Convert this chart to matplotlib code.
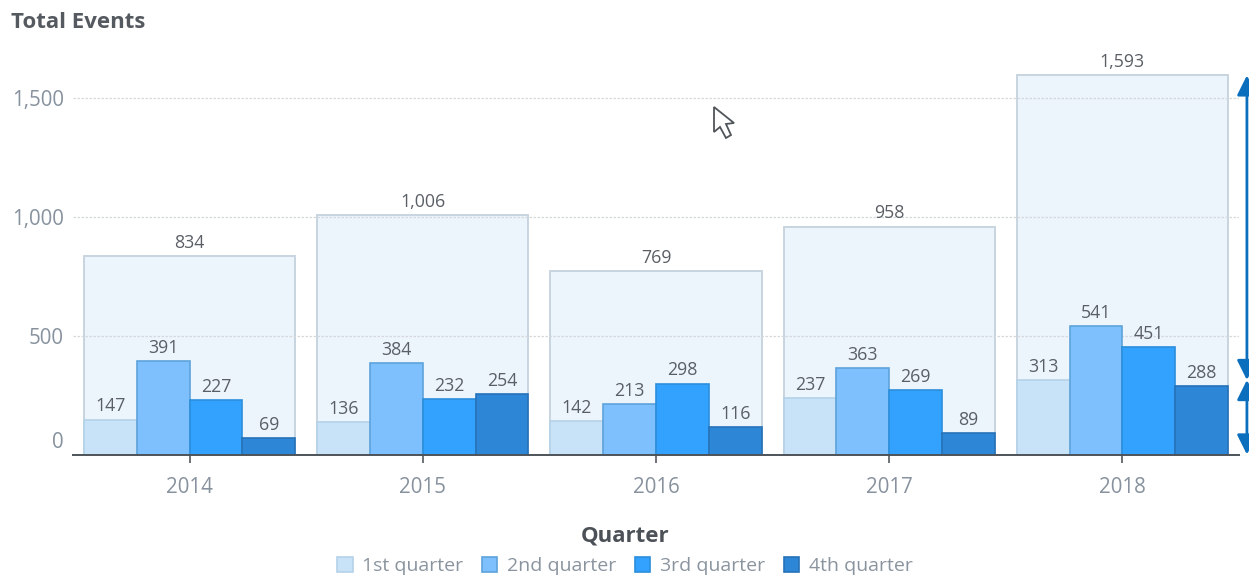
import matplotlib
matplotlib.use("Agg")
import matplotlib.pyplot as plt
from matplotlib.patches import FancyArrowPatch, Polygon
from matplotlib.transforms import ScaledTranslation, Affine2D

years = ["2014", "2015", "2016", "2017", "2018"]
totals = [834, 1006, 769, 958, 1593]
q1 = [147, 136, 142, 237, 313]
q2 = [391, 384, 213, 363, 541]
q3 = [227, 232, 298, 269, 451]
q4 = [69, 254, 116, 89, 288]
quarter_names = ["1st quarter", "2nd quarter", "3rd quarter", "4th quarter"]
y_ticks = [0, 500, 1000, 1500]

W, H = 1249, 576
plt.rcParams["font.family"] = ["Open Sans", "DejaVu Sans"]
fig = plt.figure(figsize=(W / 100, H / 100), dpi=100, facecolor="white")
ax = fig.add_axes([73 / W, 1 - 454.5 / H, (1239 - 73) / W, (454.5 - 54.7) / H])
ax.set_xlim(-0.5, 4.5)
ax.set_ylim(0, 1680)

x = list(range(len(years)))
group_w = 0.905
bw = group_w / 4
box = ax.bar(x, totals, width=group_w, color="#ecf4fc", edgecolor="#c8d4df", linewidth=1.4, zorder=1)
ax.bar_label(box, labels=[f"{v:,}" for v in totals], padding=3, fontsize=12.8, color="#5a5f66", zorder=6)

series = [q1, q2, q3, q4]
fills = ["#c8e2f8", "#7dc0fd", "#33a1fe", "#2d87d6"]
edges = ["#b5d2e8", "#5ea3dc", "#2b8edb", "#2672b8"]
handles = []
for i, vals in enumerate(series):
    pos = [c - group_w / 2 + bw * (i + 0.5) for c in x]
    b = ax.bar(pos, vals, width=bw, color=fills[i], edgecolor=edges[i], linewidth=1.2, zorder=3, label=quarter_names[i])
    ax.bar_label(b, padding=3, fontsize=12.8, color="#5a5f66", zorder=6)
    handles.append(b)

ax.set_xticks(x, years)
ax.set_yticks(y_ticks, [f"{v:,}" for v in y_ticks])
ax.yaxis.grid(True, color="#d6d9dc", linestyle=(0, (2, 1.2)), linewidth=0.9, zorder=2)
ax.set_axisbelow(False)
ax.xaxis.grid(False)
for gl in ax.get_ygridlines():
    gl.set_zorder(2)
for s in ["top", "left", "right"]:
    ax.spines[s].set_visible(False)
ax.spines["bottom"].set_color("#4d5359")
ax.spines["bottom"].set_linewidth(1.4)
ax.spines["bottom"].set_zorder(7)
ax.tick_params(axis="x", length=6, width=1.2, color="#55595e", pad=10, labelsize=14.8, labelcolor="#87929e")
ax.tick_params(axis="y", length=0, pad=6.5, labelsize=14.8, labelcolor="#87929e")
zero = ax.yaxis.get_major_ticks()[0].label1
zero.set_transform(zero.get_transform() + ScaledTranslation(0, 15 / 100, fig.dpi_scale_trans))

ax.set_xlabel("Quarter", fontsize=16, fontweight="bold", color="#4c5157", va="center")
ax.xaxis.set_label_coords((625 - 73) / (1239 - 73), -(536 - 454.5) / (454.5 - 54.7))
fig.text(11 / W, 1 - 22 / H, "Total Events", fontsize=16, fontweight="bold", color="#555a60", ha="left", va="center")

fig.legend(handles=handles, labels=quarter_names, loc="center", bbox_to_anchor=(625 / W, 1 - 566 / H), ncol=4,
           frameon=False, fontsize=14, labelcolor="#8a949f", handlelength=0.8, handleheight=0.85,
           handletextpad=0.5, columnspacing=0.95, borderpad=0)

# Annotation arrows drawn over the chart, from total to Q1 of the last year
arrow_x = 4.534
arrow_c = "#0b6fbe"
for lo, hi in [(q1[-1], totals[-1]), (0, q1[-1])]:
    ax.add_patch(FancyArrowPatch((arrow_x, lo), (arrow_x, hi),
                                 arrowstyle="<|-|>,head_length=0.8,head_width=0.4", mutation_scale=15,
                                 shrinkA=0, shrinkB=0, color=arrow_c, linewidth=2, clip_on=False, zorder=8))

# Mouse pointer captured in the screenshot, placed in figure pixels
to_fig = Affine2D().scale(1, -1).translate(0, H)
cursor = [(714, 107), (714, 132), (720, 127), (726, 138), (731, 135), (726, 124), (734, 123)]
fig.add_artist(Polygon(cursor, closed=True, facecolor="white", edgecolor="#50555a", linewidth=1.3,
                       transform=to_fig, zorder=10))

fig.savefig("out.png", dpi=100, facecolor="white")
